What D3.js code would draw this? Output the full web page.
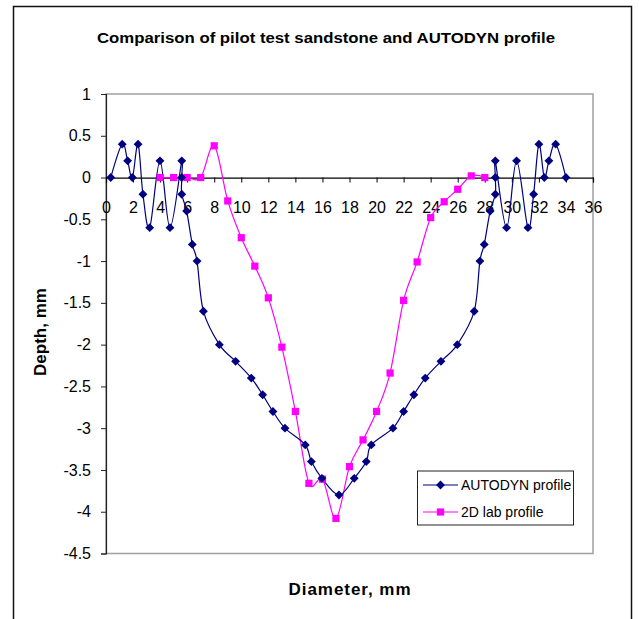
<!DOCTYPE html>
<html>
<head>
<meta charset="utf-8">
<script src="https://cdn.jsdelivr.net/npm/d3@7"></script>
<style>
  body { margin: 0; background: #fff; }
  svg { display: block; font-family: "Liberation Sans", Arial, sans-serif; }
</style>
</head>
<body>
<svg id="chart" width="639" height="619"></svg>
<script>
// AUTODYN profile (diameter mm, depth mm)
const autodynX = [0.35, 1.2, 1.6, 1.95, 2.37, 2.73, 3.23, 3.99, 4.73, 5.6, 5.6, 5.6, 5.96, 6.38, 6.73, 7.2,
    8.38, 9.58, 10.74, 11.58, 12.34, 13.23, 14.73, 15.18, 15.96, 17.22, 18.35, 19.24, 19.61, 21.21,
    22.0, 22.76, 23.6, 24.76, 25.97, 27.22, 27.64, 27.96, 28.4, 28.78, 28.78, 28.78, 29.61, 30.35,
    31.19, 31.61, 32.0, 32.4, 32.74, 33.24, 34.0];
const autodynY = [0, 0.4, 0.2, 0, 0.4, -0.2, -0.6, 0.2, -0.6, 0.2, 0, -0.2, -0.4, -0.8, -1.0, -1.6,
    -2.0, -2.2, -2.4, -2.6, -2.8, -3.0, -3.2, -3.4, -3.6, -3.8, -3.6, -3.4, -3.2, -3.0,
    -2.8, -2.6, -2.4, -2.2, -2.0, -1.6, -1.0, -0.8, -0.4, -0.2, 0, 0.2, -0.6, 0.2,
    -0.6, -0.2, 0.4, 0, 0.2, 0.4, 0];

// 2D lab profile
const labX = [4, 5, 6, 7, 8, 9, 10, 11, 12, 13, 14, 15, 16, 17, 18, 19, 20, 21, 22, 23, 24, 25, 26, 27, 28];
const labY = [0, 0, 0, 0, 0.38, -0.28, -0.72, -1.06, -1.44, -2.03, -2.8, -3.66, -3.61, -4.08, -3.46,
    -3.14, -2.8, -2.34, -1.47, -1.01, -0.48, -0.29, -0.14, 0.02, 0];

const xTicks = d3.range(0, 37, 2);
const yTicks = d3.range(-4.5, 1.01, 0.5).map(v => +v.toFixed(1));

const titleText = 'Comparison of pilot test sandstone and AUTODYN profile';
const xLabel = 'Diameter, mm';
const yLabel = 'Depth, mm';
const seriesNames = ['AUTODYN profile', '2D lab profile'];

const svg = d3.select('#chart');
const plot = { left: 106, top: 94, right: 593, bottom: 553.5 };

const x = d3.scaleLinear().domain([0, 36]).range([plot.left, plot.right]);
const y = d3.scaleLinear().domain([-4.5, 1]).range([plot.bottom, plot.top]);

// outer chart frame (bottom edge runs off the picture)
svg.append('rect')
    .attr('x', 13.5).attr('y', 6.5)
    .attr('width', 618).attr('height', 640)
    .attr('fill', 'none').attr('stroke', '#111').attr('stroke-width', 1.5);

// plot area border
svg.append('rect')
    .attr('x', plot.left).attr('y', plot.top)
    .attr('width', plot.right - plot.left).attr('height', plot.bottom - plot.top)
    .attr('fill', 'none').attr('stroke', '#a0a0a0').attr('stroke-width', 1.5);

svg.append('text')
    .attr('x', 326).attr('y', 43)
    .attr('text-anchor', 'middle')
    .attr('font-size', 14).attr('font-weight', 'bold')
    .attr('textLength', 458).attr('lengthAdjust', 'spacingAndGlyphs')
    .text(titleText);

// y axis
const yAxis = svg.append('g')
    .attr('transform', `translate(${plot.left},0)`)
    .call(d3.axisLeft(y).tickValues(yTicks).tickSize(5).tickPadding(10).tickFormat(d => String(d)));
yAxis.select('.domain').attr('stroke', '#222').attr('stroke-width', 1.2);
yAxis.selectAll('.tick line').attr('stroke', '#222');
yAxis.selectAll('text').attr('font-size', 16).attr('fill', '#000').attr('font-family', 'Liberation Sans, Arial, sans-serif');

// x axis through y = 0
const xAxis = svg.append('g')
    .attr('transform', `translate(0,${y(0)})`)
    .call(d3.axisBottom(x).tickValues(xTicks).tickSize(5).tickPadding(19).tickFormat(d => String(d)));
xAxis.select('.domain').attr('stroke', '#000').attr('stroke-width', 1.2);
xAxis.selectAll('.tick line').attr('stroke', '#000');
xAxis.selectAll('text').attr('font-size', 16).attr('fill', '#000').attr('font-family', 'Liberation Sans, Arial, sans-serif');

svg.append('text')
    .attr('x', (plot.left + plot.right) / 2).attr('y', 595)
    .attr('text-anchor', 'middle')
    .attr('font-size', 17).attr('font-weight', 'bold')
    .attr('textLength', 122).attr('lengthAdjust', 'spacing')
    .text(xLabel);

svg.append('text')
    .attr('transform', 'translate(46,332) rotate(-90)')
    .attr('text-anchor', 'middle')
    .attr('font-size', 17).attr('font-weight', 'bold')
    .attr('textLength', 88).attr('lengthAdjust', 'spacing')
    .text(yLabel);

const autodyn = autodynX.map((v, i) => [v, autodynY[i]]);
const lab = labX.map((v, i) => [v, labY[i]]);

const line = d3.line()
    .x(d => x(d[0]))
    .y(d => y(d[1]))
    .curve(d3.curveCatmullRom.alpha(0));

svg.append('path').datum(lab)
    .attr('d', line).attr('fill', 'none').attr('stroke', '#ff00ff').attr('stroke-width', 1.2);
svg.append('path').datum(autodyn)
    .attr('d', line).attr('fill', 'none').attr('stroke', '#000080').attr('stroke-width', 1.2);

const diamond = d3.symbol().type(d3.symbolDiamond2).size(50);

svg.append('g').selectAll('rect')
    .data(lab).join('rect')
    .attr('x', d => x(d[0]) - 3.6).attr('y', d => y(d[1]) - 3.6)
    .attr('width', 7.2).attr('height', 7.2)
    .attr('fill', '#ff00ff');

svg.append('g').selectAll('path')
    .data(autodyn).join('path')
    .attr('d', diamond)
    .attr('transform', d => `translate(${x(d[0])},${y(d[1])})`)
    .attr('fill', '#000080');

// legend
const legend = svg.append('g');
legend.append('rect')
    .attr('x', 417.5).attr('y', 471).attr('width', 156).attr('height', 54)
    .attr('fill', '#fff').attr('stroke', '#222').attr('stroke-width', 1);

const legendRows = [
    { name: seriesNames[0], color: '#000080', y: 485 },
    { name: seriesNames[1], color: '#ff00ff', y: 512 }
];
legendRows.forEach((r, i) => {
    legend.append('line')
        .attr('x1', 423).attr('x2', 458).attr('y1', r.y).attr('y2', r.y)
        .attr('stroke', r.color).attr('stroke-width', 1.2);
    if (i === 0) {
        legend.append('path').attr('d', diamond)
            .attr('transform', `translate(440.5,${r.y})`).attr('fill', r.color);
    } else {
        legend.append('rect')
            .attr('x', 440.5 - 3.6).attr('y', r.y - 3.6).attr('width', 7.2).attr('height', 7.2)
            .attr('fill', r.color);
    }
    legend.append('text')
        .attr('x', 461).attr('y', r.y + 5)
        .attr('font-size', 14)
        .text(r.name);
});
</script>
</body>
</html>
